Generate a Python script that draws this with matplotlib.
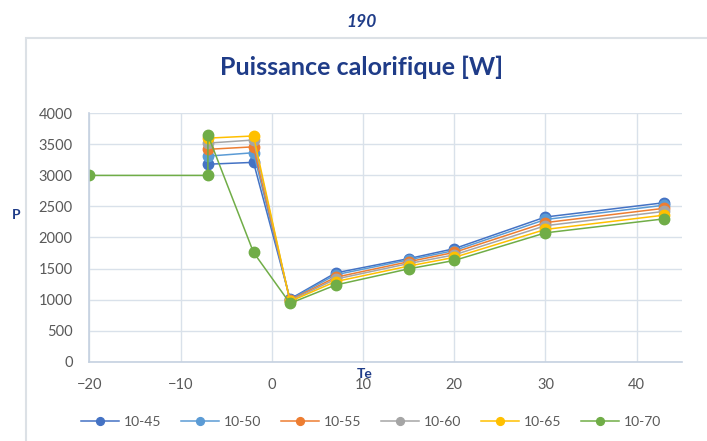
import numpy as np
import matplotlib.pyplot as plt
from matplotlib.patches import Rectangle

plt.rcParams['font.family'] = ['Lato', 'DejaVu Sans']

# temperatures Te
te = [-7, -2, 2, 7, 15, 20, 30, 43]
te_70 = [-20, -7, -7, -2, 2, 7, 15, 20, 30, 43]

p_45 = [3180, 3210, 1010, 1430, 1660, 1820, 2330, 2560]
p_50 = [3310, 3365, 1000, 1400, 1640, 1790, 2290, 2520]
p_55 = [3420, 3460, 990, 1360, 1610, 1760, 2240, 2470]
p_60 = [3520, 3570, 980, 1330, 1580, 1720, 2190, 2420]
p_65 = [3600, 3635, 970, 1290, 1540, 1680, 2130, 2360]
p_70 = [3000, 3000, 3650, 1760, 940, 1235, 1495, 1630, 2075, 2300]

labels = ['10-45', '10-50', '10-55', '10-60', '10-65', '10-70']
colors = ['#4472C4', '#5B9BD5', '#ED7D31', '#A5A5A5', '#FFC000', '#70AD47']
navy = '#1F3C88'

fig = plt.figure(figsize=(7.07, 4.41), dpi=100)
ax = fig.add_axes([89.3 / 707, 1 - 361.7 / 441, (682.3 - 89.3) / 707, (361.7 - 113.3) / 441])

series = [(te, p_45), (te, p_50), (te, p_55), (te, p_60), (te, p_65), (te_70, p_70)]
for (x, y), lab, c in zip(series, labels, colors):
    ax.plot(x, y, color=c, lw=1.1, marker='o', ms=7.5, mec=c, mfc=c, label=lab)

ax.set_xlim(-20, 45)
ax.set_ylim(0, 4000)
ax.set_xticks(np.arange(-20, 41, 10))
ax.set_yticks(np.arange(0, 4001, 500))
ax.grid(True, color='#D9E1EA', lw=1)
ax.set_axisbelow(True)
for s in ['top', 'right']:
    ax.spines[s].set_visible(False)
for s in ['left', 'bottom']:
    ax.spines[s].set_color('#C5D1E0')
    ax.spines[s].set_linewidth(1.2)
ax.tick_params(length=0, labelsize=10.5, colors='#595959')
ax.tick_params(axis='y', pad=12)
ax.tick_params(axis='x', pad=11.5)

# frame of the chart area
fig.patches.append(Rectangle((26 / 707, -0.1), 1.0, (441 - 38) / 441 + 0.1,
                             transform=fig.transFigure, fill=False,
                             edgecolor='#DCE1E6', lw=1.5))

fig.text(362 / 707, 1 - 22 / 441, '190', ha='center', va='center',
         fontsize=12.5, fontstyle='italic', fontweight='bold', color=navy)
fig.text(362 / 707, 1 - 67 / 441, 'Puissance calorifique [W]', ha='center', va='center',
         fontsize=18, fontweight='bold', color=navy)
fig.text(16 / 707, 1 - 215 / 441, 'P', ha='center', va='center',
         fontsize=10, fontweight='bold', color=navy)
fig.text(365 / 707, 1 - 374 / 441, 'Te', ha='center', va='center',
         fontsize=10, fontweight='bold', color=navy)

fig.legend(loc='center', bbox_to_anchor=(371 / 707, 1 - 422 / 441), ncol=6,
           frameon=False, fontsize=10, labelcolor='#595959', markerscale=0.75,
           handlelength=2.7, handletextpad=0.35, columnspacing=1.45)

fig.savefig('out.png', dpi=100)
